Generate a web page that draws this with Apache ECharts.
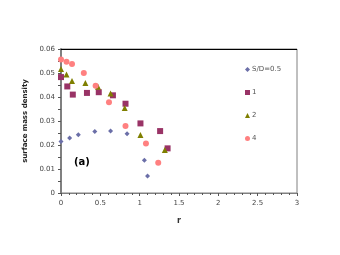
<!DOCTYPE html>
<html><head><meta charset="utf-8">
<script src="https://cdn.jsdelivr.net/npm/echarts@6/dist/echarts.min.js"></script>
<style>html,body{margin:0;padding:0;background:#fff}#c{width:340px;height:255px}</style>
</head><body><div id="c"></div>
<script>
var seriesNames = ['S/D=0.5', '1', '2', '4'];
var sd05 = [[0,0.0215],[0.11,0.0229],[0.22,0.0243],[0.43,0.0256],[0.63,0.0258],[0.84,0.0247],[1.06,0.0136],[1.10,0.0071]];
var sd1 = [[0,0.0483],[0.08,0.0444],[0.15,0.0410],[0.33,0.0417],[0.48,0.0420],[0.66,0.0407],[0.82,0.0372],[1.01,0.0290],[1.26,0.0258],[1.355,0.0186]];
var sd2 = [[0,0.0517],[0.07,0.0494],[0.14,0.0467],[0.31,0.0458],[0.47,0.0443],[0.63,0.0415],[0.81,0.0354],[1.01,0.0242],[1.32,0.0179]];
var sd4 = [[0,0.0556],[0.07,0.0547],[0.14,0.0538],[0.29,0.0500],[0.44,0.0447],[0.61,0.0378],[0.82,0.0279],[1.08,0.0206],[1.236,0.0126]];
var xTicks = [0, 0.5, 1, 1.5, 2, 2.5, 3];
var yTicks = [0, 0.01, 0.02, 0.03, 0.04, 0.05, 0.06];

var chart = echarts.init(document.getElementById('c'), null, {renderer:'canvas'});
var font = 'Verdana, "DejaVu Sans", sans-serif';
var mk = function(name, data, symbol, size, color){
  return {name:name, type:'scatter', data:data, symbol:symbol, symbolSize:size,
    itemStyle:{color:color, opacity:1}, xAxisIndex:0, yAxisIndex:0};
};
chart.setOption({
  animation:false,
  grid:{left:61, right:43, top:49, bottom:62, show:true, borderColor:'#808080', borderWidth:1},
  legend:{
    orient:'vertical', left:245, top:65, padding:0, itemGap:14, itemWidth:5, itemHeight:5,
    textStyle:{fontSize:7, lineHeight:9, color:'#555', fontFamily:font, padding:[0,0,0,-3]},
    data:[
      {name:'S/D=0.5', icon:'diamond', itemStyle:{color:'#6b6fa8'}},
      {name:'1', icon:'rect', itemStyle:{color:'#993366'}},
      {name:'2', icon:'triangle', itemStyle:{color:'#7f7f00'}},
      {name:'4', icon:'circle', itemStyle:{color:'#ff8080'}}
    ]
  },
  graphic:[
    {type:'text', left:74, top:157, style:{text:'(a)', font:'bold 10px ' + font, fill:'#000'}},
    {type:'line', shape:{x1:61, y1:49.5, x2:297, y2:49.5}, style:{stroke:'#000', lineWidth:1}, z:10}
  ],
  xAxis:[{
    type:'value', min:0, max:3, interval:0.5,
    name:'r', nameLocation:'middle', nameGap:24,
    nameTextStyle:{fontSize:8, fontWeight:'bold', color:'#333', fontFamily:font},
    axisLine:{show:true, lineStyle:{color:'#808080', width:1}},
    axisTick:{show:true, inside:false, length:3, lineStyle:{color:'#555'}},
    minorTick:{show:true, splitNumber:5, length:2, lineStyle:{color:'#555'}},
    axisLabel:{fontSize:7, color:'#444', fontFamily:font, margin:7,
      formatter:function(v){return String(v);}},
    splitLine:{show:false}
  }],
  yAxis:[{
    type:'value', min:0, max:0.06, interval:0.01,
    name:'surface mass density', nameLocation:'middle', nameGap:28,
    nameTextStyle:{fontSize:7, fontWeight:'bold', color:'#222', fontFamily:font},
    axisLine:{show:true, lineStyle:{color:'#808080', width:2}},
    axisTick:{show:true, inside:false, length:3, lineStyle:{color:'#555'}},
    minorTick:{show:true, splitNumber:2, length:3, lineStyle:{color:'#555'}},
    axisLabel:{fontSize:7, color:'#444', fontFamily:font, margin:6,
      formatter:function(v){return String(v);}},
    splitLine:{show:false}
  }],
  series:[
    mk('S/D=0.5', sd05, 'diamond', 5, '#6b6fa8'),
    mk('1', sd1, 'rect', 6, '#993366'),
    mk('2', sd2, 'triangle', 6, '#7f7f00'),
    mk('4', sd4, 'circle', 6, '#ff8080')
  ]
});
</script></body></html>
